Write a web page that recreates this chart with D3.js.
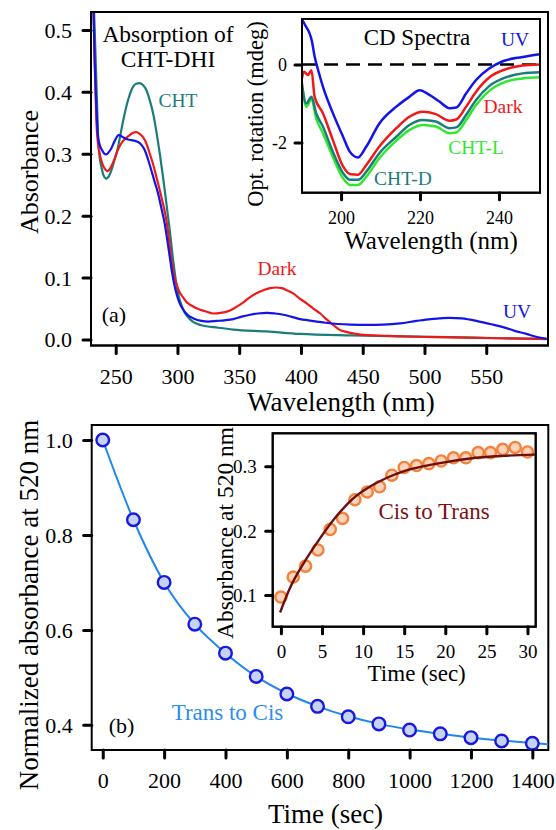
<!DOCTYPE html>
<html>
<head>
<meta charset="utf-8">
<script src="https://cdn.jsdelivr.net/npm/d3@7"></script>
<style>
body { margin: 0; background: #fff; }
</style>
</head>
<body>
<svg id="fig" width="556" height="830"></svg>
<script>
// ---- panel (a): absorption spectra, [wavelength nm, absorbance]
var absCHT = [[231,0.62],[233,0.50],[234.3,0.42],[235.7,0.33],[237,0.295],[238.4,0.279],[240,0.266],[242.4,0.260],[244.5,0.264],[246.5,0.273],[249,0.29],[251.9,0.311],[254.5,0.338],[257.3,0.365],[260.5,0.39],[264,0.408],[266.5,0.413],[269.5,0.414],[272,0.411],[274.8,0.403],[277.5,0.387],[280.3,0.365],[283,0.335],[285.7,0.30],[289.7,0.241],[293.8,0.176],[296.5,0.128],[299.1,0.090],[301,0.070],[303.2,0.056],[305.5,0.045],[308.6,0.036],[313,0.028],[319.4,0.023],[333,0.019],[345,0.016],[372,0.013],[399,0.009],[440,0.0065],[480,0.005],[520,0.004],[560,0.002],[600,0.0005]];
var absDark = [[231,0.62],[233,0.45],[234.3,0.354],[235.5,0.32],[237,0.30],[239,0.285],[241.1,0.276],[243,0.272],[244.3,0.273],[246.5,0.28],[249.2,0.292],[251.5,0.305],[254.6,0.317],[258,0.325],[261.3,0.330],[264,0.334],[266.7,0.335],[269.5,0.332],[272.1,0.327],[275,0.316],[277.6,0.30],[280,0.285],[282.9,0.263],[287,0.230],[291,0.193],[293,0.165],[295.1,0.128],[297,0.105],[299.1,0.090],[301.5,0.077],[304.6,0.068],[307.5,0.060],[311.3,0.055],[318.3,0.048],[322,0.046],[329,0.042],[335,0.043],[342.6,0.047],[348,0.053],[353.4,0.060],[358.5,0.068],[364.3,0.075],[370,0.080],[375,0.083],[380,0.084],[384.5,0.083],[389,0.079],[394,0.074],[399,0.066],[404.8,0.058],[410,0.050],[415.6,0.042],[421,0.032],[426.4,0.023],[431,0.016],[437.2,0.012],[444.8,0.009],[448,0.008],[470,0.006],[500,0.004],[530,0.003],[560,0.002],[600,0.001]];
var absUV = [[231,0.62],[233,0.45],[234.5,0.37],[235.7,0.327],[237,0.315],[238.9,0.306],[240.5,0.301],[242.4,0.299],[244.5,0.303],[246.5,0.309],[249,0.32],[252.4,0.330],[255,0.328],[257.3,0.325],[260,0.323],[262.7,0.322],[265.5,0.321],[268.1,0.319],[271,0.314],[273.5,0.306],[276,0.292],[278.9,0.273],[281.5,0.255],[284.3,0.236],[287,0.212],[289.7,0.187],[291.8,0.16],[293.8,0.133],[295.5,0.11],[297.3,0.090],[299.5,0.072],[301.9,0.058],[305,0.047],[308.6,0.039],[313,0.034],[319.4,0.030],[325,0.029],[331.9,0.030],[338,0.031],[345.3,0.033],[352,0.037],[358.9,0.040],[365,0.042],[372.4,0.043],[379,0.042],[385.8,0.040],[392,0.037],[399.4,0.033],[406,0.031],[412.9,0.029],[420,0.027],[430,0.025],[439.9,0.024],[455,0.0235],[466.4,0.024],[480,0.026],[493.4,0.030],[505,0.033],[512,0.034],[520.4,0.035],[530,0.034],[542,0.030],[553,0.025],[563.6,0.020],[573,0.014],[582.5,0.009],[591,0.004],[598.7,0.001]];
var absTicksX = [250, 300, 350, 400, 450, 500, 550];
var absTicksY = [0, 0.1, 0.2, 0.3, 0.4, 0.5];

// ---- inset: CD spectra, [wavelength nm, mdeg]
var cdUV = [[190.2,1.13],[191.2,0.95],[192,0.80],[192.6,0.60],[193.3,0.20],[194.2,-0.15],[195.4,-0.57],[197.9,-1.24],[200.5,-1.85],[202.2,-2.23],[204.3,-2.38],[206.4,-2.10],[209.7,-1.51],[214,-1.08],[217.3,-0.83],[219.9,-0.66],[222.4,-0.78],[224.9,-0.95],[227.5,-1.12],[229.2,-1.10],[231.7,-0.74],[234.2,-0.40],[237.6,-0.10],[241,0.08],[246,0.19],[250.3,0.26]];
var cdDark = [[190,-0.40],[190.6,-0.19],[191.6,-0.27],[192.5,-0.15],[193.3,-0.83],[195.4,-1.25],[197.9,-1.93],[200.5,-2.61],[202.2,-2.80],[204.3,-2.82],[206.4,-2.57],[209.7,-2.10],[214,-1.63],[217.3,-1.34],[220.7,-1.21],[224,-1.27],[227.5,-1.44],[229.2,-1.41],[231.7,-1.08],[234.2,-0.70],[237.6,-0.33],[241.8,-0.12],[246,-0.03],[250.3,0.0]];
var cdChtD = [[190,-0.44],[191.2,-1.0],[192.5,-0.83],[193.7,-1.25],[195.4,-1.59],[197.9,-2.23],[200.5,-2.78],[202.2,-2.95],[204.3,-2.95],[206.4,-2.74],[209.7,-2.27],[214,-1.85],[217.3,-1.55],[220.7,-1.42],[224,-1.46],[227.5,-1.63],[229.2,-1.61],[231.7,-1.29],[234.2,-0.91],[237.6,-0.55],[241.8,-0.33],[246,-0.23],[250.3,-0.20]];
var cdChtL = [[190,-0.44],[191.2,-1.08],[192.5,-0.89],[193.7,-1.38],[195.4,-1.76],[197.9,-2.36],[200.5,-2.91],[202.2,-3.08],[204.3,-3.08],[206.4,-2.87],[209.7,-2.40],[214,-1.95],[217.3,-1.68],[220.7,-1.55],[224,-1.59],[227.5,-1.76],[229.2,-1.74],[231.7,-1.42],[234.2,-1.04],[237.6,-0.67],[241.8,-0.44],[246,-0.36],[250.3,-0.33]];
var cdTicksX = [200, 220, 240];
var cdTicksY = [0, -2];

// ---- panel (b): trans to cis, normalized absorbance at 520 nm
var tcTime = [0, 100, 200, 300, 400, 500, 600, 700, 800, 900, 1000, 1100, 1200, 1300, 1400];
var tcAbs = [1.0, 0.832, 0.700, 0.612, 0.551, 0.502, 0.465, 0.439, 0.417, 0.402, 0.389, 0.381, 0.373, 0.366, 0.361];
var tcFitTime = [0, 100, 200, 300, 400, 500, 600, 700, 800, 900, 1000, 1100, 1200, 1300, 1400, 1452];
var tcFitAbs = [1.0, 0.832, 0.700, 0.612, 0.551, 0.502, 0.466, 0.439, 0.418, 0.402, 0.390, 0.381, 0.373, 0.367, 0.362, 0.359];
var tcTicksX = [0, 200, 400, 600, 800, 1000, 1200, 1400];
var tcTicksY = [0.4, 0.6, 0.8, 1.0];

// ---- inset: cis to trans, absorbance at 520 nm
var ctTime = [0, 1.5, 3, 4.5, 6, 7.5, 9, 10.5, 12, 13.5, 15, 16.5, 18, 19.5, 21, 22.5, 24, 25.5, 27, 28.5, 30];
var ctAbs = [0.097, 0.128, 0.145, 0.170, 0.202, 0.219, 0.248, 0.260, 0.268, 0.286, 0.298, 0.301, 0.304, 0.308, 0.313, 0.313, 0.321, 0.321, 0.326, 0.329, 0.322];
var ctFitTime = [-0.1, 1.1, 2.7, 4.75, 6.8, 8.8, 10.8, 12.9, 14.9, 19, 23, 27.1, 30.9];
var ctFitAbs = [0.073, 0.111, 0.148, 0.188, 0.223, 0.250, 0.268, 0.282, 0.292, 0.304, 0.312, 0.316, 0.318];
var ctTicksX = [0, 5, 10, 15, 20, 25, 30];
var ctTicksY = [0.1, 0.2, 0.3];

var serif = '"Liberation Serif", "Times New Roman", Times, serif';
var svg = d3.select("#fig");

function box(x, y) {
  var r = x.range(), t = y.range();
  svg.append("rect")
    .attr("x", r[0]).attr("y", t[1])
    .attr("width", r[1] - r[0]).attr("height", t[0] - t[1])
    .attr("fill", "white").attr("stroke", "black").attr("stroke-width", 2);
}

// redraw just the outline on top of the curves
function outline(x, y) {
  var r = x.range(), t = y.range();
  svg.append("rect")
    .attr("x", r[0]).attr("y", t[1])
    .attr("width", r[1] - r[0]).attr("height", t[0] - t[1])
    .attr("fill", "none").attr("stroke", "black").attr("stroke-width", 2);
}

function clip(id, x, y) {
  var r = x.range(), t = y.range();
  svg.append("clipPath").attr("id", id).append("rect")
    .attr("x", r[0]).attr("y", t[1])
    .attr("width", r[1] - r[0]).attr("height", t[0] - t[1]);
}

function bottomAxis(x, y0, ticks, len, base, size, fmt) {
  var g = svg.append("g").attr("transform", "translate(0," + y0 + ")")
    .call(d3.axisBottom(x).tickValues(ticks).tickSize(len).tickFormat(fmt));
  g.select(".domain").remove();
  g.selectAll(".tick line").attr("stroke", "black").attr("stroke-width", 3).attr("stroke-linecap", "round");
  g.selectAll(".tick text").attr("y", base).attr("dy", null)
    .attr("fill", "black").style("font-family", serif).style("font-size", size + "px");
}

function leftAxis(y, x0, ticks, len, pad, size, fmt) {
  var g = svg.append("g").attr("transform", "translate(" + x0 + ",0)")
    .call(d3.axisLeft(y).tickValues(ticks).tickSize(len).tickFormat(fmt));
  g.select(".domain").remove();
  g.selectAll(".tick line").attr("stroke", "black").attr("stroke-width", 3).attr("stroke-linecap", "round");
  g.selectAll(".tick text").attr("x", -pad).attr("dy", "0.34em")
    .attr("fill", "black").style("font-family", serif).style("font-size", size + "px");
}

function label(txt, x, y, size, color, rot) {
  var t = svg.append("text")
    .attr("text-anchor", "middle")
    .attr("fill", color || "black")
    .style("font-family", serif).style("font-size", size + "px")
    .text(txt);
  if (rot) t.attr("transform", "translate(" + x + "," + y + ") rotate(-90)");
  else t.attr("x", x).attr("y", y);
  return t;
}

function curve(data, x, y, color, w, clipId) {
  var line = d3.line().x(function(d) { return x(d[0]); }).y(function(d) { return y(d[1]); })
    .curve(d3.curveMonotoneX);
  var p = svg.append("path").datum(data)
    .attr("d", line).attr("fill", "none")
    .attr("stroke", color).attr("stroke-width", w)
    .attr("stroke-linejoin", "round");
  if (clipId) p.attr("clip-path", "url(#" + clipId + ")");
  return p;
}

var blue = "#1414e8", red = "#f01818", teal = "#1b7d78", green = "#2ee82e";

// ================= panel (a)
var xA = d3.scaleLinear().domain([230, 600]).range([91, 548]);
var yA = d3.scaleLinear().domain([-0.0097, 0.529]).range([345.5, 12]);
box(xA, yA);
clip("clipA", xA, yA);
curve(absCHT, xA, yA, teal, 2.2, "clipA");
curve(absDark, xA, yA, red, 2.2, "clipA");
curve(absUV, xA, yA, blue, 2.2, "clipA");
outline(xA, yA);
bottomAxis(xA, 345.5, absTicksX, 8, 38, 22, d3.format("d"));
leftAxis(yA, 91, absTicksY, 8, 19, 22, d3.format(".1f"));

label("Absorption of", 168, 42, 23.5);
label("CHT-DHI", 168, 67, 23.5);
label("CHT", 178, 107, 19.5, teal);
label("Dark", 277, 275, 19.5, red);
label("UV", 517, 318, 19.5, blue);
label("(a)", 114, 322, 22);
label("Wavelength (nm)", 341, 411, 27);
label("Absorbance", 38, 172, 26, "black", true);

// ================= inset: CD spectra
var xC = d3.scaleLinear().domain([190.1, 250.4]).range([302, 540]);
var yC = d3.scaleLinear().domain([-3.28, 1.16]).range([192.7, 19]);
box(xC, yC);
clip("clipC", xC, yC);
svg.append("line")
  .attr("x1", xC(190.1)).attr("x2", xC(250.4)).attr("y1", yC(0)).attr("y2", yC(0))
  .attr("stroke", "black").attr("stroke-width", 2.5).attr("stroke-dasharray", "14,8")
  .attr("clip-path", "url(#clipC)");
curve(cdChtL, xC, yC, green, 2.5, "clipC");
curve(cdChtD, xC, yC, teal, 2.5, "clipC");
curve(cdDark, xC, yC, red, 2.5, "clipC");
curve(cdUV, xC, yC, blue, 2.5, "clipC");
outline(xC, yC);
bottomAxis(xC, 192.7, cdTicksX, 7, 31, 18, d3.format("d"));
leftAxis(yC, 302, cdTicksY, 7, 15, 18, function(d) { return String(d); });

label("CD Spectra", 417, 45, 23);
label("UV", 515, 46, 19.5, blue);
label("Dark", 503, 113, 19.5, red);
label("CHT-L", 476, 154, 19.5, green);
label("CHT-D", 403, 185, 19.5, teal);
label("Wavelength (nm)", 431, 249, 25);
label("Opt. rotation (mdeg)", 263, 114, 22.5, "black", true);

// ================= panel (b)
var xB = d3.scaleLinear().domain([-36, 1452]).range([91.7, 548.3]);
var yB = d3.scaleLinear().domain([0.347, 1.0316]).range([750, 425]);
box(xB, yB);
clip("clipB", xB, yB);
curve(d3.zip(tcFitTime, tcFitAbs), xB, yB, "#1e86ec", 2, "clipB");
svg.append("g").selectAll("circle")
  .data(d3.zip(tcTime, tcAbs))
  .enter().append("circle")
  .attr("cx", function(d) { return xB(d[0]); })
  .attr("cy", function(d) { return yB(d[1]); })
  .attr("r", 6.3)
  .attr("fill", "#c5d3f5").attr("stroke", "#1818e0").attr("stroke-width", 2.4);
bottomAxis(xB, 750, tcTicksX, 8, 38, 22, d3.format("d"));
leftAxis(yB, 91.7, tcTicksY, 8, 19, 22, d3.format(".1f"));

label("Trans to Cis", 227.5, 720, 23, "#2b8cf0");
label("(b)", 121.5, 733, 22);
label("Time (sec)", 325.5, 823, 27);
label("Normalized absorbance at 520 nm", 38, 605, 27, "black", true);

// ================= inset: cis to trans
var xI = d3.scaleLinear().domain([-1, 31]).range([272.7, 535.7]);
var yI = d3.scaleLinear().domain([0.051, 0.351]).range([626.7, 433.3]);
box(xI, yI);
clip("clipI", xI, yI);
svg.append("g").selectAll("circle")
  .data(d3.zip(ctTime, ctAbs))
  .enter().append("circle")
  .attr("cx", function(d) { return xI(d[0]); })
  .attr("cy", function(d) { return yI(d[1]); })
  .attr("r", 5.6)
  .attr("fill", "#fdd3b9").attr("stroke", "#f4823c").attr("stroke-width", 2.4)
  .attr("clip-path", "url(#clipI)");
curve(d3.zip(ctFitTime, ctFitAbs), xI, yI, "#6b0f0f", 2.4, "clipI");
outline(xI, yI);
bottomAxis(xI, 626.7, ctTicksX, 7, 31.5, 19, d3.format("d"));
leftAxis(yI, 272.7, ctTicksY, 7, 16, 19, d3.format(".1f"));

label("Cis to Trans", 434, 519, 23, "#7b1111");
label("Time (sec)", 416.7, 681, 23);
label("Absorbance at 520 nm", 233, 533, 23.5, "black", true);
</script>
</body>
</html>
